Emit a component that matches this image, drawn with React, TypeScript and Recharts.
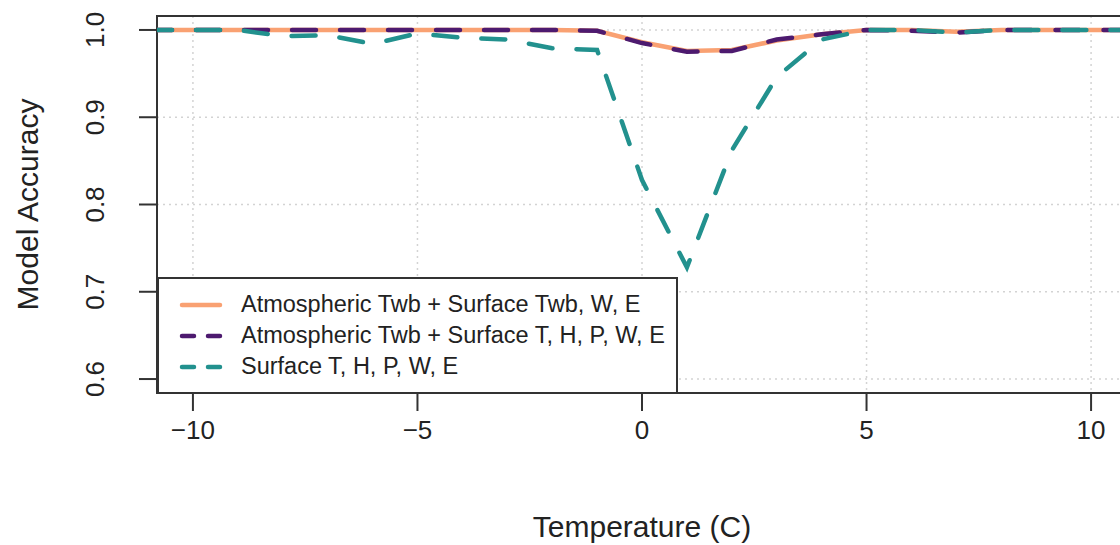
import { LineChart, Line, XAxis, YAxis, CartesianGrid, ReferenceArea, Legend } from "recharts"

// temperatures (C), the curves run a little past the plot frame
const temps = [-11, -10, -9, -8, -7, -6, -5, -4, -3, -2, -1, 0, 1, 2, 3, 4, 5, 6, 7, 8, 9, 10, 11]

const atmTwbSurfTwb = [
  1.0, 1.0, 1.0, 1.0, 1.0, 1.0, 1.0, 1.0, 1.0, 1.0, 0.999, 0.986, 0.976, 0.977, 0.988, 0.995,
  1.0, 1.0, 0.998, 1.0, 1.0, 1.0, 1.0,
]
const atmTwbSurfAll = [
  1.0, 1.0, 1.0, 1.0, 1.0, 1.0, 1.0, 1.0, 1.0, 1.0, 0.999, 0.985, 0.975, 0.976, 0.989, 0.995,
  1.0, 0.999, 0.997, 1.0, 1.0, 1.0, 1.0,
]
const surfAll = [
  1.0, 1.0, 1.0, 0.993, 0.994, 0.984, 0.996, 0.991, 0.989, 0.979, 0.977, 0.828, 0.728, 0.862,
  0.946, 0.989, 1.0, 1.0, 0.997, 1.0, 1.0, 1.0, 1.0,
]

const xTicks = [-10, -5, 0, 5, 10]
const yTicks = [0.6, 0.7, 0.8, 0.9, 1.0]

const series = [
  { key: "a", name: "Atmospheric Twb + Surface Twb, W, E", color: "#F9A172", dash: undefined },
  { key: "b", name: "Atmospheric Twb + Surface T, H, P, W, E", color: "#4D1A6F", dash: "24 24" },
  { key: "c", name: "Surface T, H, P, W, E", color: "#22918E", dash: "24 24" },
]

const data = temps.map((t, i) => ({
  t,
  a: atmTwbSurfTwb[i],
  b: atmTwbSurfAll[i],
  c: surfAll[i],
}))

const FONT = "'Liberation Sans', Arial, sans-serif"
const X_DOMAIN = [-10.8, 10.8]
const Y_DOMAIN = [0.584, 1.016]

// R draws negative tick labels with a real minus sign
const fmtX = (v: number) => (v < 0 ? "\u2212" + Math.abs(v) : String(v))

const XTick = ({ x, y, payload }: any) => (
  <text x={x} y={y + 17} textAnchor="middle" dominantBaseline="central" fontSize={26} fill="#222" fontFamily={FONT}>
    {fmtX(payload.value)}
  </text>
)

const YTick = ({ x, y, payload }: any) => (
  <text
    transform={`translate(${x - 42},${y}) rotate(-90)`}
    textAnchor="middle"
    dominantBaseline="central"
    fontSize={26}
    fill="#222"
    fontFamily={FONT}
  >
    {payload.value.toFixed(1)}
  </text>
)

const LegendBox = () => (
  <div
    style={{
      boxSizing: "border-box",
      width: 521,
      height: 117,
      border: "2px solid #333",
      background: "#fff",
      padding: "10px 0 0 20px",
      fontFamily: FONT,
      fontSize: 23.5,
      color: "#222",
    }}
  >
    {series.map((s) => (
      <div key={s.key} style={{ display: "flex", alignItems: "center", height: 31, whiteSpace: "nowrap" }}>
        <svg width={62} height={10} style={{ flexShrink: 0 }}>
          <line
            x1={3}
            x2={41}
            y1={5}
            y2={5}
            stroke={s.color}
            strokeWidth={4.5}
            strokeDasharray={s.dash ? "12 14" : undefined}
            strokeLinecap="round"
          />
        </svg>
        <span>{s.name}</span>
      </div>
    ))}
  </div>
)

export default function App() {
  return (
    <div style={{ position: "absolute", left: 0, top: 0, width: 1120, height: 545, overflow: "hidden", background: "#fff" }}>
      <LineChart width={1140} height={545} data={data} margin={{ top: 16, right: 13, bottom: 0, left: 17 }}>
        <CartesianGrid stroke="#d3d3d3" strokeDasharray="2 4" strokeWidth={1.5} />
        <XAxis
          dataKey="t"
          type="number"
          domain={X_DOMAIN}
          ticks={xTicks}
          allowDataOverflow
          axisLine={false}
          tickSize={18}
          tickLine={{ stroke: "#333", strokeWidth: 2 }}
          tick={<XTick />}
          height={152}
          label={({ viewBox }: any) => (
            <text
              x={viewBox.x + viewBox.width / 2}
              y={537}
              textAnchor="middle"
              fontSize={30}
              fill="#222"
              fontFamily={FONT}
            >
              Temperature (C)
            </text>
          )}
        />
        <YAxis
          type="number"
          domain={Y_DOMAIN}
          ticks={yTicks}
          allowDataOverflow
          axisLine={false}
          tickSize={18}
          tickLine={{ stroke: "#333", strokeWidth: 2 }}
          tick={<YTick />}
          width={140}
          label={({ viewBox }: any) => (
            <text
              transform={`translate(27,${viewBox.y + viewBox.height / 2})  rotate(-90)`}
              textAnchor="middle"
              dominantBaseline="central"
              fontSize={30}
              fill="#222"
              fontFamily={FONT}
            >
              Model Accuracy
            </text>
          )}
        />
        {series.map((s) => (
          <Line
            key={s.key}
            dataKey={s.key}
            name={s.name}
            stroke={s.color}
            strokeWidth={4.5}
            strokeDasharray={s.dash}
            strokeLinecap="round"
            dot={false}
            activeDot={false}
            type="linear"
            isAnimationActive={false}
          />
        ))}
        <ReferenceArea
          x1={X_DOMAIN[0]}
          x2={X_DOMAIN[1]}
          y1={Y_DOMAIN[0]}
          y2={Y_DOMAIN[1]}
          fill="none"
          stroke="#333"
          strokeWidth={2}
          ifOverflow="visible"
        />
        <Legend
          layout="vertical"
          align="center"
          verticalAlign="middle"
          content={<LegendBox />}
          wrapperStyle={{ left: 157, top: 277, width: 521, height: 117 }}
        />
      </LineChart>
    </div>
  )
}
